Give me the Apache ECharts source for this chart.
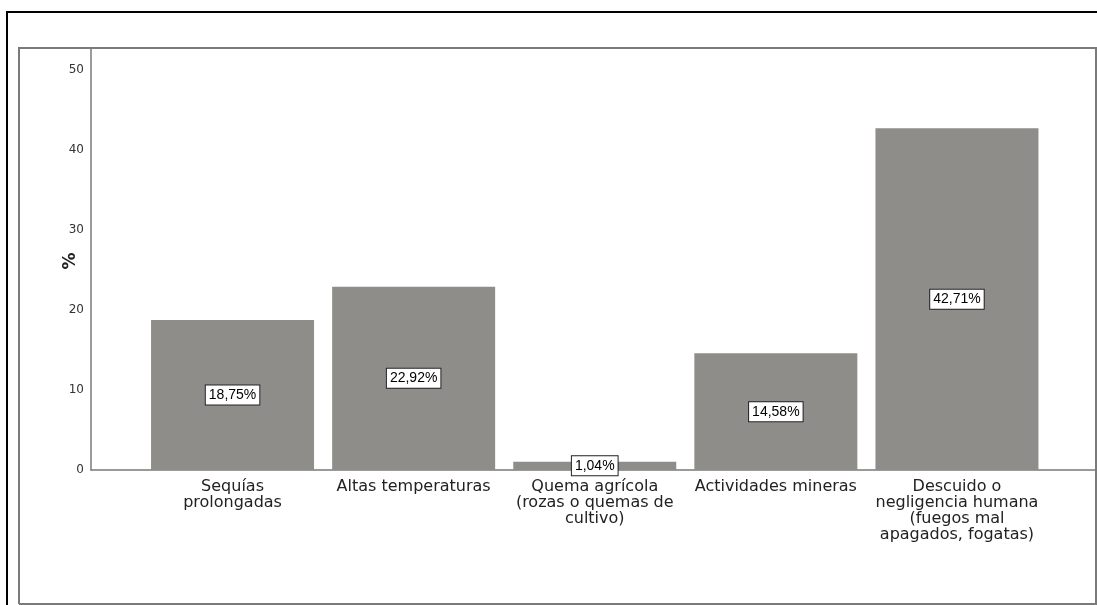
<!DOCTYPE html>
<html>
<head>
<meta charset="utf-8">
<script src="https://cdn.jsdelivr.net/npm/echarts@6/dist/echarts.min.js"></script>
<style>
html,body{margin:0;padding:0;background:#fff;}
#c{width:1097px;height:605px;}
</style>
</head>
<body>
<div id="c"></div>
<script>
const categories = [
  'Sequías\nprolongadas',
  'Altas temperaturas',
  'Quema agrícola\n(rozas o quemas de\ncultivo)',
  'Actividades mineras',
  'Descuido o\nnegligencia humana\n(fuegos mal\napagados, fogatas)'
];
const values = [18.75, 22.92, 1.04, 14.58, 42.71];
const valueLabels = ['18,75%', '22,92%', '1,04%', '14,58%', '42,71%'];
const yTicks = [0, 10, 20, 30, 40, 50];

const chart = echarts.init(document.getElementById('c'), null, {renderer: 'canvas'});
const font = 'DejaVu Sans, Verdana, sans-serif';
const fontLabel = 'Liberation Sans, Arial, sans-serif';

chart.setOption({
  backgroundColor: '#fff',
  animation: false,
  graphic: [
    {type: 'polyline', shape: {points: [[7, 605], [7, 12], [1097, 12]]}, style: {stroke: '#000', lineWidth: 2, fill: null}, z: 100},
    {type: 'polyline', shape: {points: [[19, 604], [19, 48], [1096, 48], [1096, 604], [19, 604]]}, style: {stroke: '#7a7a7a', lineWidth: 2, fill: null}, z: 100}
  ],
  grid: [
    {left: 142, right: 49.5, top: 70, bottom: 135},
    {left: 91, right: 1, top: 48, bottom: 135}
  ],
  xAxis: [
    {
      type: 'category', gridIndex: 0, data: categories,
      axisLine: {show: false}, axisTick: {show: false},
      axisLabel: {
        interval: 0, margin: 9, color: '#222', fontSize: 16, lineHeight: 16,
        fontFamily: font, align: 'center', verticalAlign: 'top'
      }
    },
    {
      type: 'value', gridIndex: 1, min: 0, max: 1,
      axisLine: {show: true, lineStyle: {color: '#7a7a7a', width: 1.5}},
      axisTick: {show: false}, axisLabel: {show: false}, splitLine: {show: false}
    }
  ],
  yAxis: [
    {
      type: 'value', gridIndex: 0, min: 0, max: 50, interval: 10,
      offset: 51,
      axisLine: {show: false}, axisTick: {show: false}, splitLine: {show: false},
      axisLabel: {
        margin: 7, color: '#333', fontSize: 12, fontFamily: font,
        formatter: function (v) { return yTicks.indexOf(v) >= 0 ? String(v) : ''; }
      },
      name: '%', nameLocation: 'middle', nameGap: 12, nameRotate: 90,
      nameMoveOverlap: false,
      nameTextStyle: {fontSize: 17, fontWeight: 'bold', color: '#222', fontFamily: font, padding: [0, 0, 0, 18]}
    },
    {
      type: 'value', gridIndex: 1, min: 0, max: 1,
      axisLine: {show: true, lineStyle: {color: '#7a7a7a', width: 1.5}},
      axisTick: {show: false}, axisLabel: {show: false}, splitLine: {show: false}
    }
  ],
  series: [{
    type: 'bar', xAxisIndex: 0, yAxisIndex: 0,
    data: values, barWidth: 163,
    itemStyle: {color: '#8f8d89'},
    label: {
      show: true, position: 'inside',
      formatter: function (p) { return valueLabels[p.dataIndex]; },
      color: '#000', fontSize: 14, fontFamily: fontLabel,
      backgroundColor: '#fff', borderColor: '#222', borderWidth: 1,
      padding: [3, 3, 2, 3]
    }
  }]
});
</script>
</body>
</html>
